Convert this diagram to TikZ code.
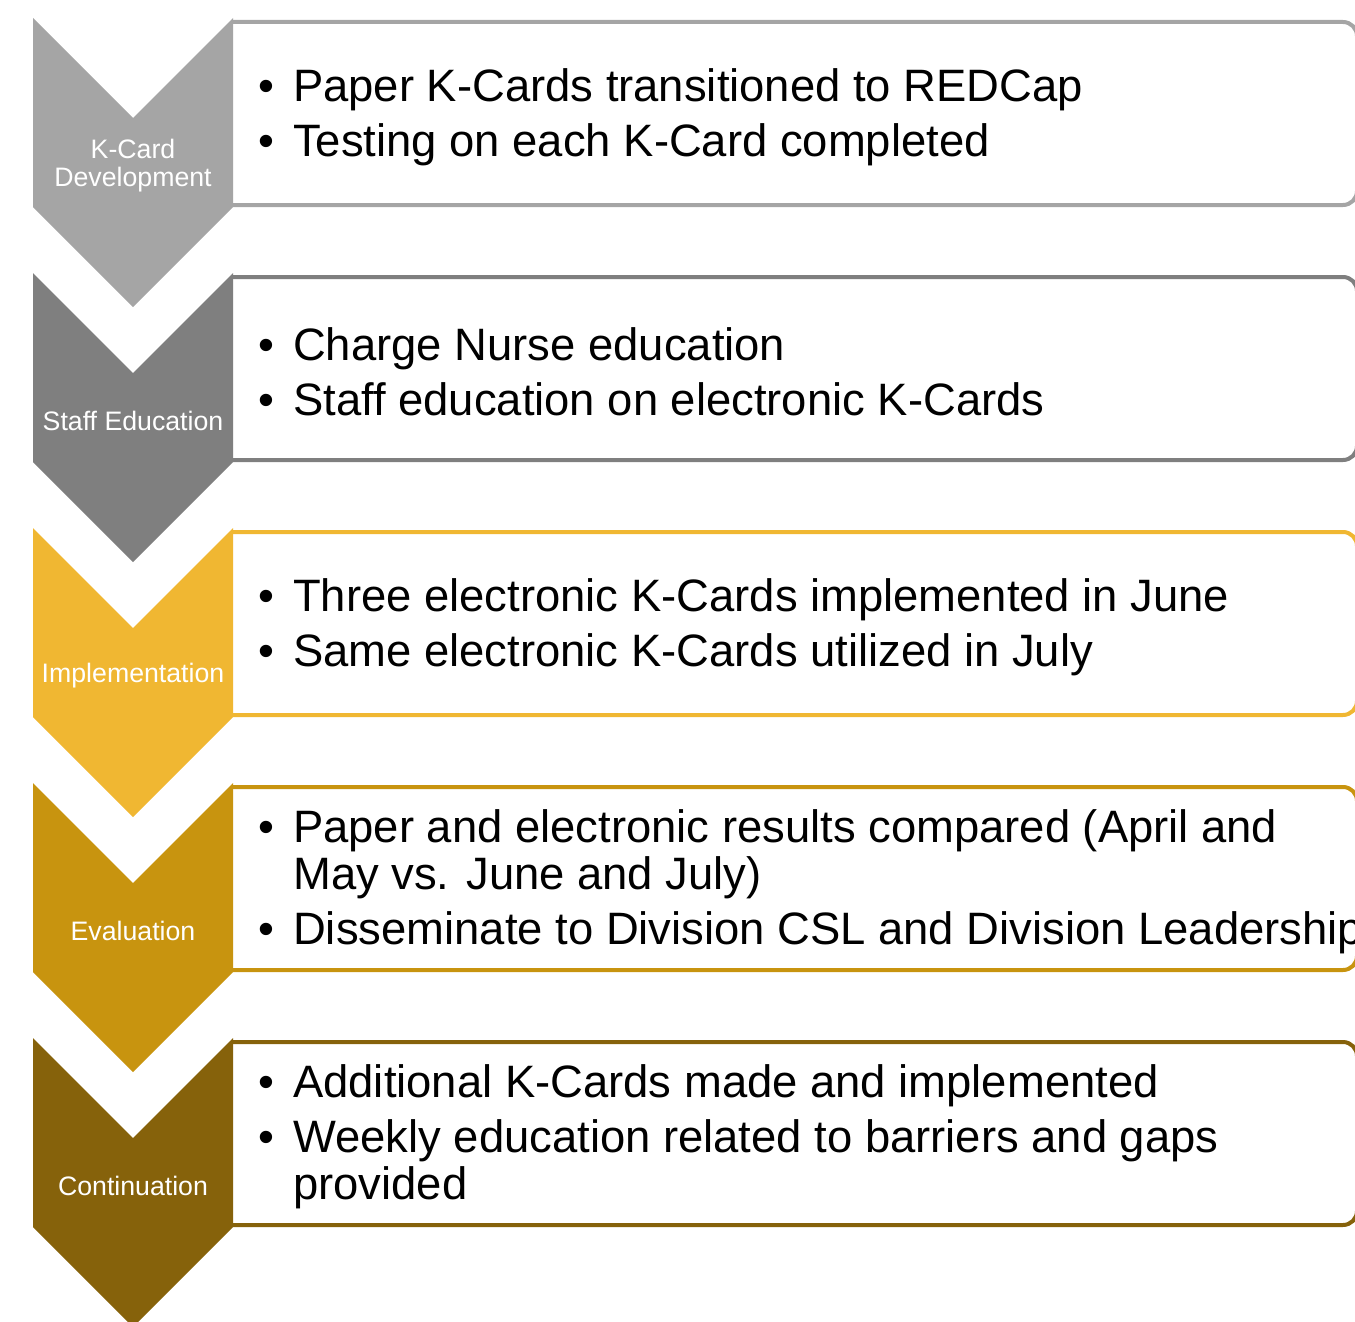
\documentclass[tikz,border=0pt]{standalone}
\usepackage{fontspec}
\setmainfont{Liberation Sans}
\definecolor{cA}{HTML}{A5A5A5}
\definecolor{cB}{HTML}{7F7F7F}
\definecolor{cC}{HTML}{F0B732}
\definecolor{cD}{HTML}{C8940F}
\definecolor{cE}{HTML}{86620B}
\newcommand{\bul}{\makebox[38pt][l]{\hspace{3pt}•}}
\newcommand{\cont}{\hspace*{38pt}}
\tikzset{
  stagebox/.style={draw=#1, line width=4pt, fill=white, rounded corners=14pt},
  chev/.style={fill=#1, draw=none},
  chevlabel/.style={text=white, font=\fontsize{26.7}{28}\selectfont, align=center},
  bullets/.style={anchor=west, align=left, font=\fontsize{45.4}{47}\selectfont, inner sep=0pt}
}
\begin{document}
\begin{tikzpicture}[x=1pt, y=-1pt]
\useasboundingbox (0,0) rectangle (1355,1322);
\foreach \T/\col/\nm in {18/cA/a, 273/cB/b, 528/cC/c, 783/cD/d, 1038/cE/e}{
  \draw[stagebox=\col] (233,\T+4) -- (1357,\T+4) -- (1357,\T+187) -- (233,\T+187);
  \fill[chev=\col] (33,\T) -- (133,\T+100) -- (233,\T) -- (233,\T+189)
     -- (133,\T+289) -- (33,\T+189) -- cycle;
  \coordinate (lab\nm) at (133,\T+147.5);
  \coordinate (txt\nm) at (255,\T+99);
}
\node[chevlabel] (la) at (laba) {K-Card\\Development};
\node[chevlabel] (lb) at (labb) {Staff Education};
\node[chevlabel] (lc) at (labc) {Implementation};
\node[chevlabel] (ld) at (labd) {Evaluation};
\node[chevlabel] (le) at (labe) {Continuation};
\node[bullets] (ta) at (txta) {\bul Paper K-Cards transitioned to REDCap\\[8pt]\bul Testing on each K-Card completed};
\node[bullets] (tb) at (txtb) {\bul Charge Nurse education\\[8pt]\bul Staff education on electronic K-Cards};
\node[bullets] (tc) at (txtc) {\bul Three electronic K-Cards implemented in June\\[8pt]\bul Same electronic K-Cards utilized in July};
\node[bullets] (td) at (txtd) {\bul Paper and electronic results compared (April and\\\cont May vs. June and July)\\[8pt]\bul Disseminate to Division CSL and Division Leadership};
\node[bullets] (te) at (txte) {\bul Additional K-Cards made and implemented\\[8pt]\bul Weekly education related to barriers and gaps\\\cont provided};
\end{tikzpicture}
\end{document}
